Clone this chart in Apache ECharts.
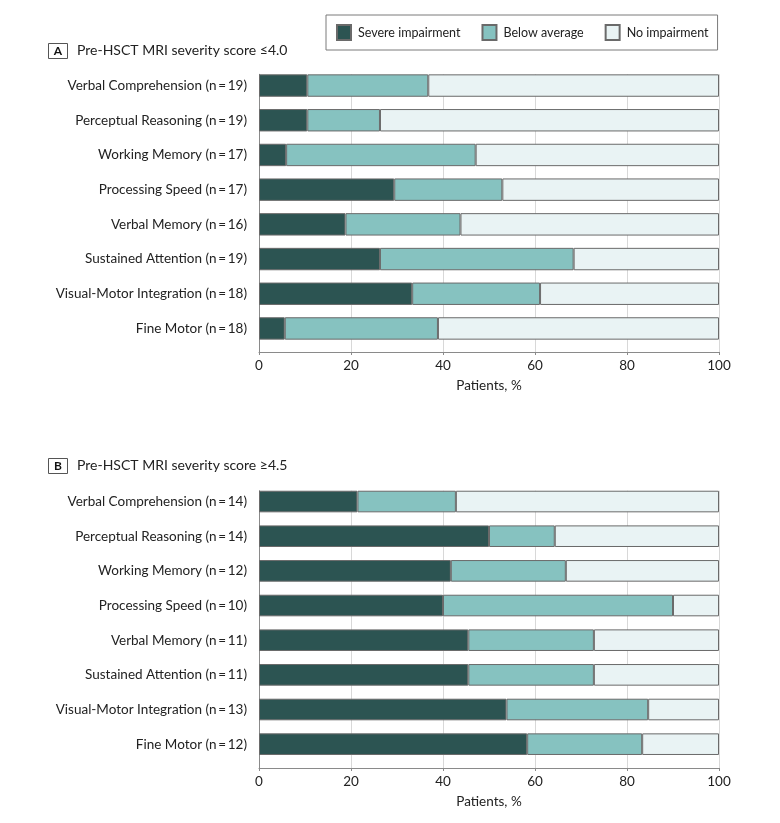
<!DOCTYPE html>
<html>
<head>
<meta charset="utf-8">
<script src="https://cdn.jsdelivr.net/npm/echarts@6/dist/echarts.min.js"></script>
<style>
html,body{margin:0;padding:0;background:#fff;}
#chart{width:780px;height:823px;}
</style>
</head>
<body>
<div id="chart"></div>
<script>
const domains = ['Verbal Comprehension','Perceptual Reasoning','Working Memory','Processing Speed','Verbal Memory','Sustained Attention','Visual-Motor Integration','Fine Motor'];
const nA = [19,19,17,17,16,19,18,18];
const nB = [14,14,12,10,11,11,13,12];
const severeA = [10.5,10.5,5.9,29.4,18.8,26.3,33.3,5.6];
const belowA  = [26.3,15.8,41.2,23.5,25.0,42.1,27.8,33.3];
const noneA   = [63.2,73.7,52.9,47.1,56.2,31.6,38.9,61.1];
const severeB = [21.4,50.0,41.7,40.0,45.5,45.5,53.8,58.3];
const belowB  = [21.4,14.3,25.0,50.0,27.3,27.3,30.8,25.0];
const noneB   = [57.2,35.7,33.3,10.0,27.2,27.2,15.4,16.7];
const xTicks = [0,20,40,60,80,100];
const seriesNames = ['Severe impairment','Below average','No impairment'];
const titleA = 'Pre-HSCT MRI severity score ≤4.0';
const titleB = 'Pre-HSCT MRI severity score ≥4.5';

const FONT = 'Lato';
const colors = ['#2c5452','#86c2c0','#e9f3f4'];
const catsA = domains.map((d,i)=>d+' (n\u2009=\u2009'+nA[i]+')');
const catsB = domains.map((d,i)=>d+' (n\u2009=\u2009'+nB[i]+')');

const chart = echarts.init(document.getElementById('chart'));
const L = 259, W = 460;
function barGrid(top,h){return {left:L,width:W,top:top,height:h};}

function decoX(gi){
  return {type:'value',gridIndex:gi,min:xTicks[0],max:xTicks[xTicks.length-1],interval:20,
    axisLine:{show:true,onZero:false,lineStyle:{color:'#8a8a8a',width:1}},
    axisTick:{show:true,length:3,lineStyle:{color:'#8a8a8a'}},
    splitLine:{show:true,lineStyle:{color:'#d8d8d8',width:1}},
    axisLabel:{fontFamily:FONT,fontSize:13.5,color:'#222',margin:7},
    name:'Patients, %',nameLocation:'middle',nameGap:27,
    nameTextStyle:{fontFamily:FONT,fontSize:13.5,color:'#222'}};
}
function decoY(gi){
  return {type:'value',gridIndex:gi,min:0,max:1,
    axisLine:{show:true,lineStyle:{color:'#8a8a8a'}},
    axisTick:{show:false},axisLabel:{show:false},splitLine:{show:false}};
}
function barX(gi){return {type:'value',gridIndex:gi,min:0,max:100,show:false};}
function barY(gi,cats){
  return {type:'category',gridIndex:gi,data:cats,inverse:true,
    axisLine:{show:false},axisTick:{show:false},
    axisLabel:{fontFamily:FONT,fontSize:13.5,color:'#222',margin:12}};
}
function mkSeries(gi,vals,bw,stack){
  return vals.map((v,k)=>({
    name:seriesNames[k],type:'bar',stack:stack,xAxisIndex:gi,yAxisIndex:gi,
    data:v,barWidth:bw,
    itemStyle:{color:colors[k],borderColor:'#6a6a6a',borderWidth:1},
    emphasis:{disabled:true}
  }));
}

const option = {
  animation:false,
  textStyle:{fontFamily:FONT},
  legend:{
    left:326,top:15,padding:[9,9,9,10],
    borderColor:'#7a7a7a',borderWidth:1,
    itemWidth:14,itemHeight:15,itemGap:21,
    icon:'rect',
    data:seriesNames,
    textStyle:{fontFamily:FONT,fontSize:12.5,color:'#222',padding:[0,0,0,2]}
  },
  grid:[
    barGrid(68.2,277.6),
    barGrid(74.3,277.7),
    barGrid(484.2,277.3),
    barGrid(490.7,277.3)
  ],
  xAxis:[barX(0),decoX(1),barX(2),decoX(3)],
  yAxis:[barY(0,catsA),decoY(1),barY(2,catsB),decoY(3)],
  series:[].concat(
    mkSeries(0,[severeA,belowA,noneA],22.4,'a'),
    mkSeries(2,[severeB,belowB,noneB],21.6,'b')
  ),
  graphic:[
    {type:'rect',shape:{x:48.5,y:43.5,width:19,height:15},style:{fill:'#fff',stroke:'#555',lineWidth:1}},
    {type:'text',x:58,y:51,style:{text:'A',fontFamily:FONT,fontWeight:'bold',fontSize:12,fill:'#111',align:'center',verticalAlign:'middle'}},
    {type:'text',x:77,y:50.5,style:{text:titleA,fontFamily:FONT,fontSize:14,fill:'#222',verticalAlign:'middle'}},
    {type:'rect',shape:{x:48.5,y:458.5,width:19,height:15},style:{fill:'#fff',stroke:'#555',lineWidth:1}},
    {type:'text',x:58,y:466,style:{text:'B',fontFamily:FONT,fontWeight:'bold',fontSize:12,fill:'#111',align:'center',verticalAlign:'middle'}},
    {type:'text',x:77,y:465.5,style:{text:titleB,fontFamily:FONT,fontSize:14,fill:'#222',verticalAlign:'middle'}}
  ]
};
chart.setOption(option);
</script>
</body>
</html>
